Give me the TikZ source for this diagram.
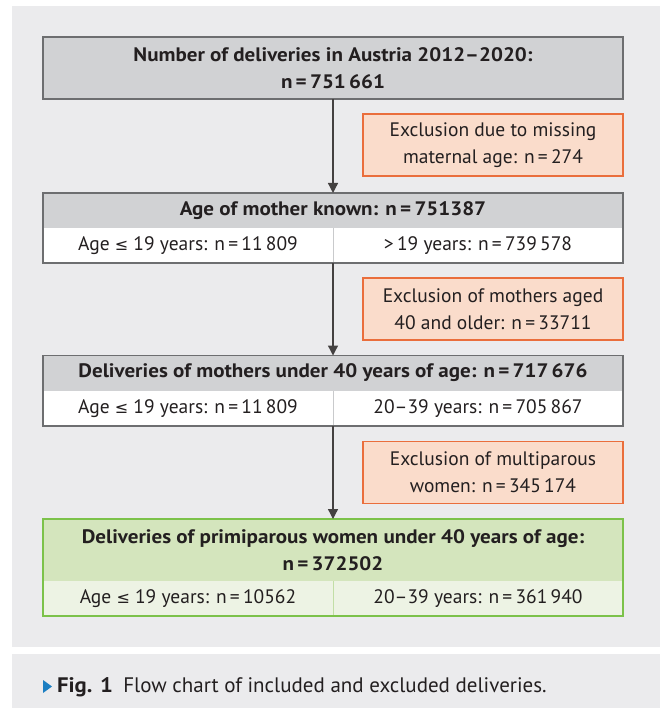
\documentclass[tikz,border=0pt]{standalone}
\usepackage{fontspec}
\setmainfont{PT Sans}[BoldFeatures={FakeStretch=1.08}]
\newfontfamily\symfont{DejaVu Sans}
\def\LE{{\symfont\fontsize{16}{20}\selectfont ≤}}
\usetikzlibrary{positioning,arrows.meta}
\definecolor{panel}{HTML}{EBEBED}
\definecolor{headgrey}{HTML}{D1D2D4}
\definecolor{edgegrey}{HTML}{6D6E70}
\definecolor{rowgrey}{HTML}{C9CACC}
\definecolor{exclfill}{HTML}{FADCCB}
\definecolor{excledge}{HTML}{EA6E3C}
\definecolor{greenhead}{HTML}{D4E5BD}
\definecolor{greenrow}{HTML}{EDF3E4}
\definecolor{greenedge}{HTML}{7CC24A}
\definecolor{figblue}{HTML}{1B7EC2}
\definecolor{ink}{HTML}{231F20}
\tikzset{
  every node/.style={inner sep=0pt,outer sep=0pt,text=ink,align=center,
    font=\fontsize{19.5}{27}\selectfont},
  head/.style={minimum width=580pt,minimum height=35pt,font=\fontsize{19.5}{27}\selectfont\bfseries},
  row/.style={minimum width=290pt,minimum height=35pt},
  exclbox/.style={fill=exclfill,draw=excledge,line width=1.3pt,minimum width=260pt,minimum height=62pt},
  frame/.style={line width=1.5pt},
  flow/.style={draw=ink!85,line width=1.3pt,-{Triangle[length=10pt,width=10pt]}}
}

\begin{document}
\begin{tikzpicture}[x=1pt,y=-1pt]
  \fill[panel] (12,6) rectangle (660,647);
  \fill[panel] (12,654) rectangle (660,708);
  \useasboundingbox (0,0) rectangle (660,708);

  % total
  \node[head,fill=headgrey,draw=edgegrey,frame,minimum height=62pt] (total) at (333,68)
    {Number of deliveries in Austria 2012--2020:\\n\,=\,751\,661};
  \node[exclbox] (exclA) at (493,145) {Exclusion due to missing\\maternal age: n\,=\,274};

  % age known
  \node[head,fill=headgrey] (known) at (333,210.5) {Age of mother known: n\,=\,751387};
  \node[row,fill=white] (knownL) at (188,245.5) {Age \LE\ 19 years: n\,=\,11\,809};
  \node[row,fill=white] (knownR) at (478,245.5) {>\,19 years: n\,=\,739\,578};
  \draw[rowgrey,line width=1pt] (knownL.north east) -- (knownL.south east);
  \draw[edgegrey,frame] (known.north west) rectangle (knownR.south east);
  \node[exclbox] (exclB) at (493,309) {Exclusion of mothers aged\\40 and older: n\,=\,33711};

  % under 40
  \node[head,fill=headgrey] (under) at (333,373) {Deliveries of mothers under 40 years of age: n\,=\,717\,676};
  \node[row,fill=white] (underL) at (188,408.5) {Age \LE\ 19 years: n\,=\,11\,809};
  \node[row,fill=white] (underR) at (478,408.5) {20--39 years: n\,=\,705\,867};
  \draw[rowgrey,line width=1pt] (underL.north east) -- (underL.south east);
  \draw[edgegrey,frame] (under.north west) rectangle (underR.south east);
  \node[exclbox] (exclC) at (493,472.5) {Exclusion of multiparous\\women: n\,=\,345\,174};

  % primiparous
  \node[head,fill=greenhead,minimum height=62pt] (prim) at (333,550)
    {Deliveries of primiparous women under 40 years of age:\\n\,=\,372502};
  \node[row,fill=greenrow] (primL) at (188,598.5) {Age \LE\ 19 years: n\,=\,10562};
  \node[row,fill=greenrow] (primR) at (478,598.5) {20--39 years: n\,=\,361\,940};
  \draw[greenhead!80!greenedge,line width=1pt] (primL.north east) -- (primL.south east);
  \draw[greenedge,frame] (prim.north west) rectangle (primR.south east);

  % arrows
  \coordinate (knownS) at (knownL.south east);
  \coordinate (underS) at (underL.south east);
  \draw[flow] (total) -- (known);
  \draw[flow] (knownS) -- (under.north);
  \draw[flow] (underS) -- (prim.north);

  % caption
  \fill[figblue] (43,680) -- (52,686.5) -- (43,693) -- cycle;
  \node[anchor=west,font=\fontsize{21}{24}\selectfont] (caption) at (57,687)
    {\textbf{Fig. 1}\enspace Flow chart of included and excluded deliveries.};
\end{tikzpicture}
\end{document}
